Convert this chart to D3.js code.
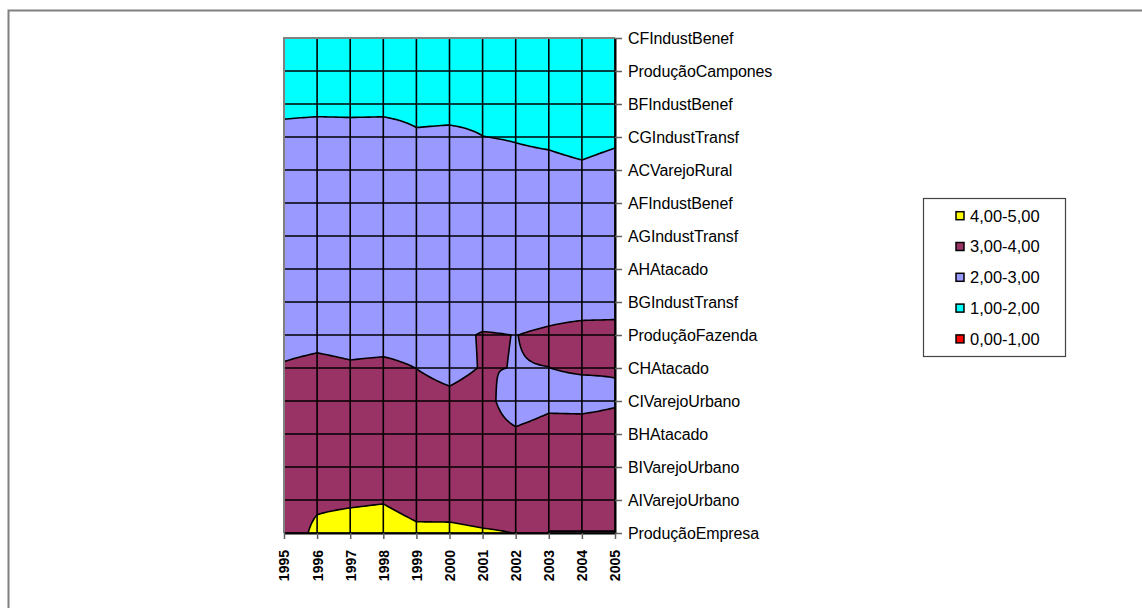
<!DOCTYPE html>
<html><head><meta charset="utf-8">
<script src="https://cdn.jsdelivr.net/npm/d3@7"></script>
<style>
body{margin:0;background:#fff;}
svg{display:block;font-family:"Liberation Sans",Arial,sans-serif;}
</style>
</head><body>
<svg id="chart" width="1142" height="608"></svg>
<script>
// ---- data (values per category row, years 1995..2005) ----
const years = ["1995","1996","1997","1998","1999","2000","2001","2002","2003","2004","2005"];
const categories = ["CFIndustBenef","ProduçãoCampones","BFIndustBenef","CGIndustTransf","ACVarejoRural",
  "AFIndustBenef","AGIndustTransf","AHAtacado","BGIndustTransf","ProduçãoFazenda","CHAtacado",
  "CIVarejoUrbano","BHAtacado","BIVarejoUrbano","AIVarejoUrbano","ProduçãoEmpresa"];
const cfIndustBenef    = [1.4,1.5,1.5,1.4,1.5,1.4,1.3,1.4,1.3,1.2,1.3];
const producaoCampones = [1.5,1.6,1.5,1.5,1.4,1.5,1.4,1.3,1.3,1.2,1.3];
const bfIndustBenef    = [1.6,1.6,1.6,1.6,1.6,1.6,1.7,1.6,1.5,1.4,1.5];
const cgIndustTransf   = [2.47,2.64,2.58,2.63,2.16,2.23,2.01,1.95,1.85,1.7,1.85];
const acVarejoRural    = [2.6,2.7,2.7,2.7,2.5,2.5,2.4,2.24,2.235,2.13,2.3];
const afIndustBenef    = [2.6,2.7,2.7,2.7,2.6,2.6,2.5,2.5,2.5,2.4,2.5];
const agIndustTransf   = [2.6,2.7,2.7,2.7,2.6,2.6,2.6,2.5,2.5,2.5,2.5];
const ahAtacado        = [2.6,2.6,2.6,2.6,2.5,2.5,2.6,2.5,2.5,2.5,2.5];
const bgIndustTransf   = [2.55,2.6,2.55,2.6,2.5,2.5,2.5,2.6,2.66,2.62,2.6];
const producaoFazenda  = [2.5,2.6,2.5,2.5,2.5,2.77,3.06,2.99,3.126,3.3,3.35];
const chAtacado        = [3.12,3.34,3.16,3.26,2.99,2.7,3.055,2.98,2.995,3.1,3.065];
const ciVarejoUrbano   = [3.5,3.5,3.5,3.5,3.4,3.245,3.47,2.3,2.7,2.62,2.85];
const bhAtacado        = [3.5,3.5,3.5,3.5,3.5,3.5,3.5,3.2,3.51,3.59,3.6];
const biVarejoUrbano   = [3.5,3.5,3.5,3.5,3.5,3.5,3.5,3.5,3.5,3.5,3.5];
const aiVarejoUrbano   = [3.5,3.76,3.81,3.9,3.42,3.49,3.43,3.5,3.5,3.5,3.5];
const producaoEmpresa  = [3.2,4.3,4.6,4.75,4.3,4.25,4.1,3.99,2.97,2.97,2.97];
const bandThresholds = [0,1,2,3,4];
const legendLabels = ["4,00-5,00","3,00-4,00","2,00-3,00","1,00-2,00","0,00-1,00"];

// ---- styles ----
const bandColors = ["#FF0000","#00FFFF","#9999FF","#993366","#FFFF00"];

const rows = [cfIndustBenef,producaoCampones,bfIndustBenef,cgIndustTransf,acVarejoRural,afIndustBenef,
  agIndustTransf,ahAtacado,bgIndustTransf,producaoFazenda,chAtacado,ciVarejoUrbano,bhAtacado,
  biVarejoUrbano,aiVarejoUrbano,producaoEmpresa];

const svg = d3.select("#chart");
// outer frame
svg.append("rect").attr("x",8.5).attr("y",10.5).attr("width",1160).attr("height",640)
  .attr("fill","#fff").attr("stroke","#808080").attr("stroke-width",2);

const L=284, R=615, T=38, B=533;
const x = d3.scalePoint().domain(years).range([L,R]);
const y = d3.scalePoint().domain(categories).range([T,B]);

// surface resampled (bilinear, as the contour renderer does) for d3.contours
const K = 12, nc = years.length, nr = categories.length;
const nx = (nc-1)*K+1, ny = (nr-1)*K+1;
const vals = new Float64Array(nx*ny);
for (let j=0;j<ny;j++){
  const gy=j/K, j0=Math.min(Math.floor(gy),nr-2), ty=gy-j0;
  for (let i=0;i<nx;i++){
    const gx=i/K, i0=Math.min(Math.floor(gx),nc-2), tx=gx-i0;
    const a=rows[j0][i0], b=rows[j0][i0+1], c=rows[j0+1][i0], d=rows[j0+1][i0+1];
    vals[j*nx+i]=(1-ty)*((1-tx)*a+tx*b)+ty*((1-tx)*c+tx*d);
  }
}
const contours = d3.contours().size([nx,ny]).thresholds(bandThresholds)(vals);
const sx = d3.scaleLinear().domain([0.5,nx-0.5]).range([x(years[0]),x(years[nc-1])]);
const sy = d3.scaleLinear().domain([0.5,ny-0.5]).range([y(categories[0]),y(categories[nr-1])]);
const path = d3.geoPath(d3.geoTransform({point(px,py){this.stream.point(sx(px),sy(py));}}));

svg.append("clipPath").attr("id","plotclip").append("rect")
  .attr("x",L).attr("y",T).attr("width",R-L).attr("height",B-T);
const plot = svg.append("g").attr("clip-path","url(#plotclip)");
plot.selectAll("path.band").data(contours).join("path").attr("class","band")
  .attr("d",path).attr("fill",(d,i)=>bandColors[i])
  .attr("stroke","#000").attr("stroke-width",1.6).attr("stroke-linejoin","round");

// gridlines
const grid = svg.append("g").attr("stroke","#000").attr("stroke-width",1.6);
grid.selectAll("line.v").data(years).join("line").attr("class","v")
  .attr("x1",d=>x(d)).attr("x2",d=>x(d)).attr("y1",T).attr("y2",B);
grid.selectAll("line.h").data(categories).join("line").attr("class","h")
  .attr("x1",L).attr("x2",R).attr("y1",d=>y(d)).attr("y2",d=>y(d));
// plot border (left/top gray)
svg.append("path").attr("d",`M${L},${B}V${T}H${R}`).attr("fill","none")
  .attr("stroke","#808080").attr("stroke-width",2);

// right axis
const ax = svg.append("g").attr("transform",`translate(${R},0)`)
  .call(d3.axisRight(y).tickSize(7).tickPadding(6).tickSizeOuter(0));
ax.select(".domain").attr("stroke","#000").attr("stroke-width",2);
ax.selectAll(".tick line").attr("stroke","#606060").attr("stroke-width",1.5);
ax.selectAll(".tick text").attr("font-size",16).attr("font-family","Liberation Sans, Arial, sans-serif")
  .attr("fill","#000").attr("letter-spacing","-0.1");

// bottom axis
const bx = svg.append("g").attr("transform",`translate(0,${B})`)
  .call(d3.axisBottom(x).tickSize(6).tickSizeOuter(0));
bx.select(".domain").attr("stroke","#000").attr("stroke-width",2);
bx.selectAll(".tick line").attr("stroke","#606060").attr("stroke-width",1.5);
bx.selectAll(".tick text").attr("font-size",14).attr("font-weight","bold")
  .attr("font-family","Liberation Sans, Arial, sans-serif").attr("fill","#000")
  .attr("text-anchor","end").attr("dy","0.35em")
  .attr("transform","translate(0,17) rotate(-90)").attr("x",0).attr("y",0);

// legend
const lg = svg.append("g");
lg.append("rect").attr("x",923.5).attr("y",198.5).attr("width",142).attr("height",158)
  .attr("fill","#fff").attr("stroke","#444").attr("stroke-width",1.2);
const items = lg.selectAll("g.item").data(legendLabels).join("g").attr("class","item")
  .attr("transform",(d,i)=>`translate(956,${215.7+i*30.8})`);
items.append("rect").attr("x",0).attr("y",-4).attr("width",8).attr("height",8)
  .attr("fill",(d,i)=>bandColors[bandColors.length-1-i]).attr("stroke","#000").attr("stroke-width",1.5);
items.append("text").attr("x",14).attr("dy","0.36em").attr("font-size",16.5)
  .attr("fill","#000").text(d=>d);
</script>
</body></html>
